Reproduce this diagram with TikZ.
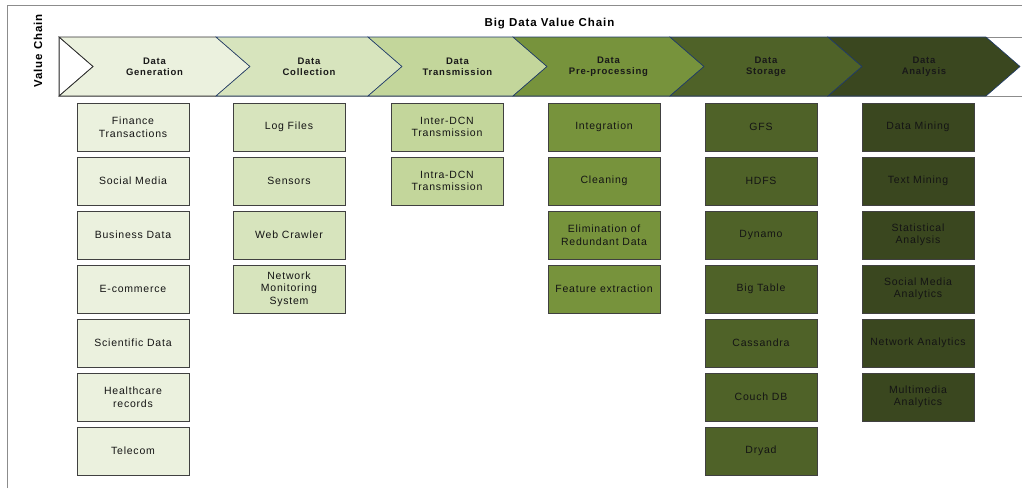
\documentclass[tikz,border=0pt]{standalone}
\usepackage{fontspec}
\setmainfont{Liberation Sans}
\newfontfamily\spacedfont[LetterSpace=7.5]{Liberation Sans}
\newfontfamily\spacedbold[LetterSpace=8]{Liberation Sans Bold}

\definecolor{stageA}{HTML}{EBF1DE}
\definecolor{stageB}{HTML}{D7E4BD}
\definecolor{stageC}{HTML}{C3D69B}
\definecolor{stageD}{HTML}{77933C}
\definecolor{stageE}{HTML}{4F6228}
\definecolor{stageF}{HTML}{3A471F}
\definecolor{chevronline}{HTML}{1F3A6A}
\definecolor{frameline}{HTML}{8C8C8C}

\tikzset{
  itembox/.style={draw=black!75, line width=0.8pt, minimum width=112pt,
    minimum height=48pt, inner sep=0pt, align=center,
    font=\spacedfont\fontsize{10.5}{12.5}\selectfont, text=black!92},
  chevron/.style={draw=chevronline, line width=0.6pt, line join=miter},
  stagelabel/.style={align=center, inner sep=0pt,
    font=\spacedbold\fontsize{9.5}{10.8}\selectfont, text=black!90},
  titlelabel/.style={inner sep=0pt, font=\spacedbold\fontsize{11.5}{13}\selectfont},
}

\begin{document}
\begin{tikzpicture}[x=1pt, y=-1pt]
  \useasboundingbox (0,0) rectangle (1022,488);

  % outer frame
  \draw[frameline, line width=0.9pt] (7,488) -- (7,5) -- (1022,5);

  % band behind the chevrons
  \draw[frameline, line width=0.8pt] (1022,37) -- (59,37) -- (59,96) -- (1022,96);

  % chevrons: left edge L, right edge R, tip depth 34
  \foreach \L/\R/\col/\ln in {59/216/stageA/black!80, 216/368/stageB/chevronline,
      368/513/stageC/chevronline, 513/670/stageD/chevronline,
      670/828/stageE/chevronline, 828/986/stageF/chevronline}{
    \filldraw[chevron, draw=\ln, fill=\col]
      (\L,37) -- (\R,37) -- ({\R+34},66.5) -- (\R,96) -- (\L,96) -- ({\L+34},66.5) -- cycle;
  }
  \draw[black!80, line width=0.7pt] (59,37) -- (93,66.5) -- (59,96) -- cycle;

  % headings
  \node[titlelabel] (title) at (549.5,24) {Big Data Value Chain};
  \node[titlelabel, rotate=90] (vchain) at (38,51) {Value Chain};

  % stage labels
  \node[stagelabel] (sA) at (154.5,67) {Data\\Generation};
  \node[stagelabel] (sB) at (309,67) {Data\\Collection};
  \node[stagelabel] (sC) at (457.5,67) {Data\\Transmission};
  \node[stagelabel] (sD) at (608.5,67) {Data\\Pre-processing};
  \node[stagelabel] (sE) at (766,67) {Data\\Storage};
  \node[stagelabel] (sF) at (924,67) {Data\\Analysis};

  % column 1: data generation
  \foreach \t [count=\i] in {{Finance\\Transactions}, {Social Media}, {Business Data},
      {E-commerce}, {Scientific Data}, {Healthcare\\records}, {Telecom}}{
    \node[itembox, fill=stageA] (gen\i) at (133,{127+54*(\i-1)}) {\t};
  }

  % column 2: data collection
  \foreach \t [count=\i] in {{Log Files}, {Sensors}, {Web Crawler},
      {Network\\Monitoring\\System}}{
    \node[itembox, fill=stageB] (col\i) at (289,{127+54*(\i-1)}) {\t};
  }

  % column 3: data transmission
  \foreach \t [count=\i] in {{Inter-DCN\\Transmission}, {Intra-DCN\\Transmission}}{
    \node[itembox, fill=stageC] (tra\i) at (447,{127+54*(\i-1)}) {\t};
  }

  % column 4: pre-processing
  \foreach \t [count=\i] in {{Integration}, {Cleaning},
      {Elimination of\\Redundant Data}, {Feature extraction}}{
    \node[itembox, fill=stageD] (pre\i) at (604,{127+54*(\i-1)}) {\t};
  }

  % column 5: storage
  \foreach \t [count=\i] in {{GFS}, {HDFS}, {Dynamo}, {Big Table},
      {Cassandra}, {Couch DB}, {Dryad}}{
    \node[itembox, fill=stageE] (sto\i) at (761,{127+54*(\i-1)}) {\t};
  }

  % column 6: analysis
  \foreach \t [count=\i] in {{Data Mining}, {Text Mining}, {Statistical\\Analysis},
      {Social Media\\Analytics}, {Network Analytics}, {Multimedia\\Analytics}}{
    \node[itembox, fill=stageF] (ana\i) at (918,{127+54*(\i-1)}) {\t};
  }
\end{tikzpicture}
\end{document}
